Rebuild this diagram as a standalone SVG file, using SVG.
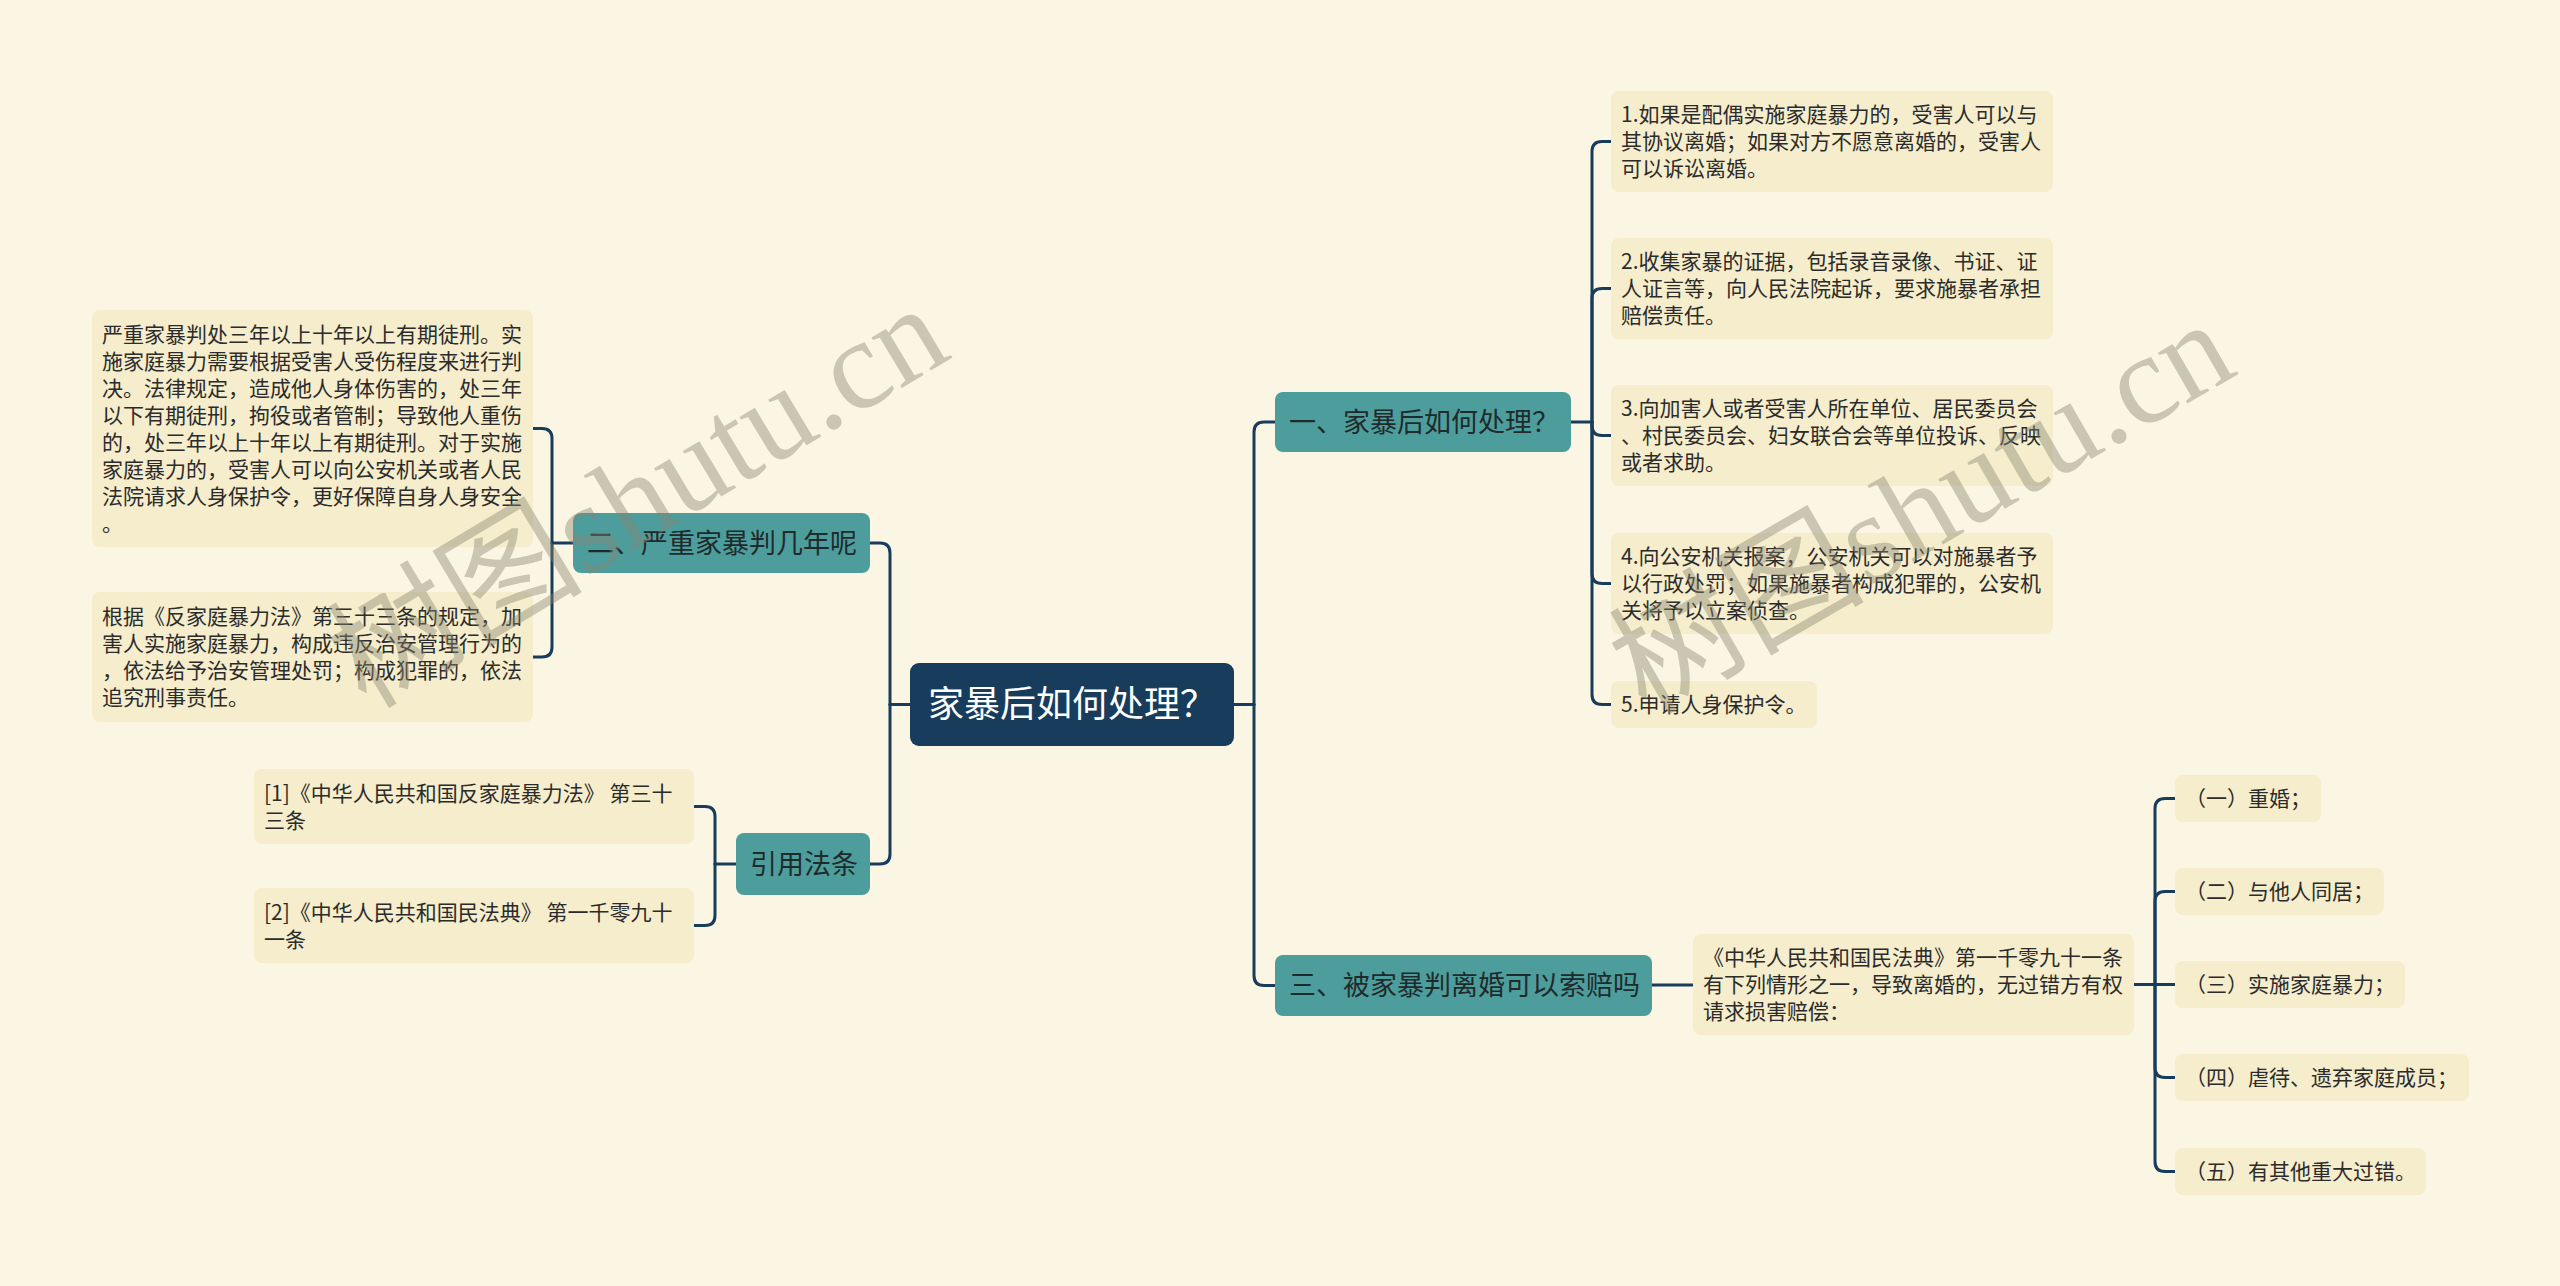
<svg xmlns="http://www.w3.org/2000/svg" width="2560" height="1286" viewBox="0 0 2560 1286">
<style>
.bg{fill:#FBF6E3}
.root rect{fill:#173C5C}
.root text{fill:#FFFFFF;font-size:36px}
.branch rect{fill:#4E9D9D}
.branch text{fill:#1F2B2B;font-size:27px}
.leaf rect{fill:#F5EDCC}
.leaf text{fill:#2B2B2B;font-size:21px}
text{font-family:"Noto Sans CJK SC","Noto Sans",sans-serif}
.conn path{fill:none;stroke:#173C5C;stroke-width:3;stroke-linecap:round}
.wm{font-family:"Liberation Serif","Noto Sans CJK SC",serif;font-size:128px;fill:#8A8570;opacity:0.42}
</style>
<rect class="bg" x="0" y="0" width="2560" height="1286"/>
<g id="connectors" class="conn">
<path d="M1234,704.5 H1254"/>
<path d="M1254,704.5 V432 Q1254,422 1264,422 H1275"/>
<path d="M1254,704.5 V975.5 Q1254,985.5 1264,985.5 H1275"/>
<path d="M1571,422 H1592"/>
<path d="M1592,422 V151.5 Q1592,141.5 1602,141.5 H1611"/>
<path d="M1592,422 V298.5 Q1592,288.5 1602,288.5 H1611"/>
<path d="M1592,422 V425.5 Q1592,435.5 1602,435.5 H1611"/>
<path d="M1592,422 V573.5 Q1592,583.5 1602,583.5 H1611"/>
<path d="M1592,422 V694.5 Q1592,704.5 1602,704.5 H1611"/>
<path d="M1652,985 H1693"/>
<path d="M2134,984.5 H2155"/>
<path d="M2155,984.5 V808.5 Q2155,798.5 2165,798.5 H2175"/>
<path d="M2155,984.5 V901.5 Q2155,891.5 2165,891.5 H2175"/>
<path d="M2155,984.5 H2175"/>
<path d="M2155,984.5 V1067.5 Q2155,1077.5 2165,1077.5 H2175"/>
<path d="M2155,984.5 V1161.5 Q2155,1171.5 2165,1171.5 H2175"/>
<path d="M910,704.5 H890"/>
<path d="M890,704.5 V553 Q890,543 880,543 H870"/>
<path d="M890,704.5 V854 Q890,864 880,864 H870"/>
<path d="M573,543 H552"/>
<path d="M552,543 V438.5 Q552,428.5 542,428.5 H533"/>
<path d="M552,543 V647 Q552,657 542,657 H533"/>
<path d="M736,864 H715"/>
<path d="M715,864 V816.5 Q715,806.5 705,806.5 H694"/>
<path d="M715,864 V915.5 Q715,925.5 705,925.5 H694"/>
</g>
<g id="root" class="root"><rect x="910" y="663" width="324" height="83" rx="9"/><text x="928" y="717">家暴后如何处理？</text></g>
<g id="b1" class="branch"><rect x="1275" y="392" width="296" height="60" rx="8"/><text x="1289" y="432">一、家暴后如何处理？</text></g>
<g id="b3" class="branch"><rect x="1275" y="955" width="377" height="61" rx="8"/><text x="1289" y="995">三、被家暴判离婚可以索赔吗</text></g>
<g id="b2" class="branch"><rect x="573" y="513" width="297" height="60" rx="8"/><text x="587" y="553">二、严重家暴判几年呢</text></g>
<g id="b4" class="branch"><rect x="736" y="833" width="134" height="62" rx="8"/><text x="750" y="874">引用法条</text></g>
<g id="l1" class="leaf"><rect x="1611" y="91" width="442" height="101" rx="8"/><text x="1621"><tspan x="1621" y="122">1.如果是配偶实施家庭暴力的，受害人可以与</tspan><tspan x="1621" y="149">其协议离婚；如果对方不愿意离婚的，受害人</tspan><tspan x="1621" y="176">可以诉讼离婚。</tspan></text></g>
<g id="l2" class="leaf"><rect x="1611" y="238" width="442" height="101" rx="8"/><text x="1621"><tspan x="1621" y="269">2.收集家暴的证据，包括录音录像、书证、证</tspan><tspan x="1621" y="296">人证言等，向人民法院起诉，要求施暴者承担</tspan><tspan x="1621" y="323">赔偿责任。</tspan></text></g>
<g id="l3" class="leaf"><rect x="1611" y="385" width="442" height="101" rx="8"/><text x="1621"><tspan x="1621" y="416">3.向加害人或者受害人所在单位、居民委员会</tspan><tspan x="1621" y="443">、村民委员会、妇女联合会等单位投诉、反映</tspan><tspan x="1621" y="470">或者求助。</tspan></text></g>
<g id="l4" class="leaf"><rect x="1611" y="533" width="442" height="101" rx="8"/><text x="1621"><tspan x="1621" y="564">4.向公安机关报案，公安机关可以对施暴者予</tspan><tspan x="1621" y="591">以行政处罚；如果施暴者构成犯罪的，公安机</tspan><tspan x="1621" y="618">关将予以立案侦查。</tspan></text></g>
<g id="l5" class="leaf"><rect x="1611" y="681" width="206" height="47" rx="8"/><text x="1621" y="712">5.申请人身保护令。</text></g>
<g id="l6" class="leaf"><rect x="1693" y="934" width="441" height="101" rx="8"/><text x="1703"><tspan x="1703" y="965">《中华人民共和国民法典》第一千零九十一条</tspan><tspan x="1703" y="992">有下列情形之一，导致离婚的，无过错方有权</tspan><tspan x="1703" y="1019">请求损害赔偿：</tspan></text></g>
<g id="s1" class="leaf"><rect x="2175" y="775" width="146" height="47" rx="8"/><text x="2185" y="806">（一）重婚；</text></g>
<g id="s2" class="leaf"><rect x="2175" y="868" width="209" height="47" rx="8"/><text x="2185" y="899">（二）与他人同居；</text></g>
<g id="s3" class="leaf"><rect x="2175" y="961" width="230" height="47" rx="8"/><text x="2185" y="992">（三）实施家庭暴力；</text></g>
<g id="s4" class="leaf"><rect x="2175" y="1054" width="294" height="47" rx="8"/><text x="2185" y="1085">（四）虐待、遗弃家庭成员；</text></g>
<g id="s5" class="leaf"><rect x="2175" y="1148" width="251" height="47" rx="8"/><text x="2185" y="1179">（五）有其他重大过错。</text></g>
<g id="ll1" class="leaf"><rect x="92" y="310" width="441" height="237" rx="8"/><text x="102"><tspan x="102" y="342">严重家暴判处三年以上十年以上有期徒刑。实</tspan><tspan x="102" y="369">施家庭暴力需要根据受害人受伤程度来进行判</tspan><tspan x="102" y="396">决。法律规定，造成他人身体伤害的，处三年</tspan><tspan x="102" y="423">以下有期徒刑，拘役或者管制；导致他人重伤</tspan><tspan x="102" y="450">的，处三年以上十年以上有期徒刑。对于实施</tspan><tspan x="102" y="477">家庭暴力的，受害人可以向公安机关或者人民</tspan><tspan x="102" y="504">法院请求人身保护令，更好保障自身人身安全</tspan><tspan x="102" y="531">。</tspan></text></g>
<g id="ll2" class="leaf"><rect x="92" y="592" width="441" height="130" rx="8"/><text x="102"><tspan x="102" y="624">根据《反家庭暴力法》第三十三条的规定，加</tspan><tspan x="102" y="651">害人实施家庭暴力，构成违反治安管理行为的</tspan><tspan x="102" y="678">，依法给予治安管理处罚；构成犯罪的，依法</tspan><tspan x="102" y="705">追究刑事责任。</tspan></text></g>
<g id="c1" class="leaf"><rect x="254" y="769" width="440" height="75" rx="8"/><text x="264"><tspan x="264" y="801">[1]《中华人民共和国反家庭暴力法》 第三十</tspan><tspan x="264" y="828">三条</tspan></text></g>
<g id="c2" class="leaf"><rect x="254" y="888" width="440" height="75" rx="8"/><text x="264"><tspan x="264" y="920">[2]《中华人民共和国民法典》 第一千零九十</tspan><tspan x="264" y="947">一条</tspan></text></g>
<text class="wm" transform="translate(366,710) rotate(-31)">树图shutu.cn</text>
<text class="wm" transform="translate(1646,716) rotate(-30)">树图shutu.cn</text>
</svg>
